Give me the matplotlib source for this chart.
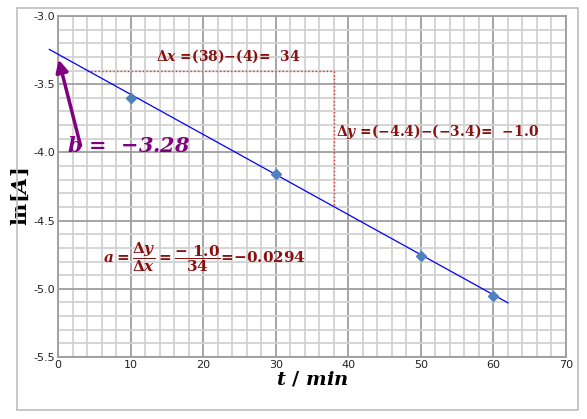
import matplotlib.pyplot as plt
from matplotlib.patches import Rectangle
from matplotlib.ticker import MultipleLocator
import numpy as np

# measured points
t_min = [10, 30, 50, 60]
ln_a = [-3.60, -4.16, -4.76, -5.05]

# fitted line
slope = -0.0294
intercept = -3.28
fit_t = [-1.2, 62]

# triangle used for the slope
dx_pts = [4, 38]
dy_pts = [-3.4, -4.4]

red = "#8b1010"
purple = "#800080"

plt.rcParams["mathtext.fontset"] = "custom"
plt.rcParams["mathtext.rm"] = "DejaVu Serif:bold"
plt.rcParams["mathtext.bf"] = "DejaVu Serif:bold"
plt.rcParams["mathtext.it"] = "DejaVu Serif:italic:bold"

fig = plt.figure(figsize=(5.87, 4.19), dpi=100)
fig.patches.append(Rectangle((0.029, 0.0215), 0.956, 0.959, transform=fig.transFigure,
                             fill=False, edgecolor="#bdbdbd", lw=1.2))
ax = fig.add_axes([0.0988, 0.148, 0.8654, 0.8138])

ax.set_xlim(0, 70)
ax.set_ylim(-5.5, -3.0)
ax.xaxis.set_major_locator(MultipleLocator(10))
ax.xaxis.set_minor_locator(MultipleLocator(2))
ax.yaxis.set_major_locator(MultipleLocator(0.5))
ax.yaxis.set_minor_locator(MultipleLocator(0.1))
ax.grid(which="minor", color="#d2d2d2", lw=1.3)
ax.grid(which="major", color="#9e9e9e", lw=1.3)
ax.set_axisbelow(True)
for s in ax.spines.values():
    s.set_color("#9e9e9e")
    s.set_linewidth(1.3)
ax.tick_params(which="both", length=0, labelsize=8, pad=2, labelcolor="#222222")
ax.set_yticklabels(["%.1f" % v for v in ax.get_yticks()])

# fit line and data
ft = np.array(fit_t)
ax.plot(ft, intercept + slope * ft, color="blue", lw=0.9, clip_on=False, zorder=3)
ax.plot(t_min, ln_a, "D", color="#4f81bd", ms=5, zorder=4)

# slope triangle
ax.plot([dx_pts[0], dx_pts[1]], [dy_pts[0], dy_pts[0]], ls=":", color="#e03030", lw=1)
ax.plot([dx_pts[1], dx_pts[1]], [dy_pts[0], dy_pts[1]], ls=":", color="#e03030", lw=1)

ax.text(13.5, -3.325, r"$\mathit{Δx}$ =(38)$-$(4)=  34", color=red, fontsize=10,
        family="DejaVu Serif", weight="bold")
ax.text(38.3, -3.88, r"$\mathit{Δy}$ =($-$4.4)$-$($-$3.4)=  $-$1.0", color=red,
        fontsize=10, family="DejaVu Serif", weight="bold")
ax.text(6.2, -4.81, r"$a=\dfrac{\mathit{Δy}}{\mathit{Δx}}=\dfrac{-\ 1.0}{34}$=$-$0.0294",
        color=red, fontsize=11, family="DejaVu Serif", weight="bold")

ax.annotate("", xy=(0, -3.30), xytext=(3.2, -3.97),
            arrowprops=dict(arrowstyle="-|>", color=purple, lw=2.5, mutation_scale=18),
            annotation_clip=False)
ax.text(1.3, -4.0, r"$b$ =  $-$3.28", color=purple, fontsize=15,
        family="DejaVu Serif", weight="bold", style="italic")

ax.set_xlabel(r"$t\ /\ min$", fontsize=14, labelpad=0)
ax.set_ylabel(r"$\mathrm{ln}[A]$", fontsize=15)
ax.yaxis.set_label_coords(-0.053, 0.47)

fig.savefig("out.png", dpi=100)
